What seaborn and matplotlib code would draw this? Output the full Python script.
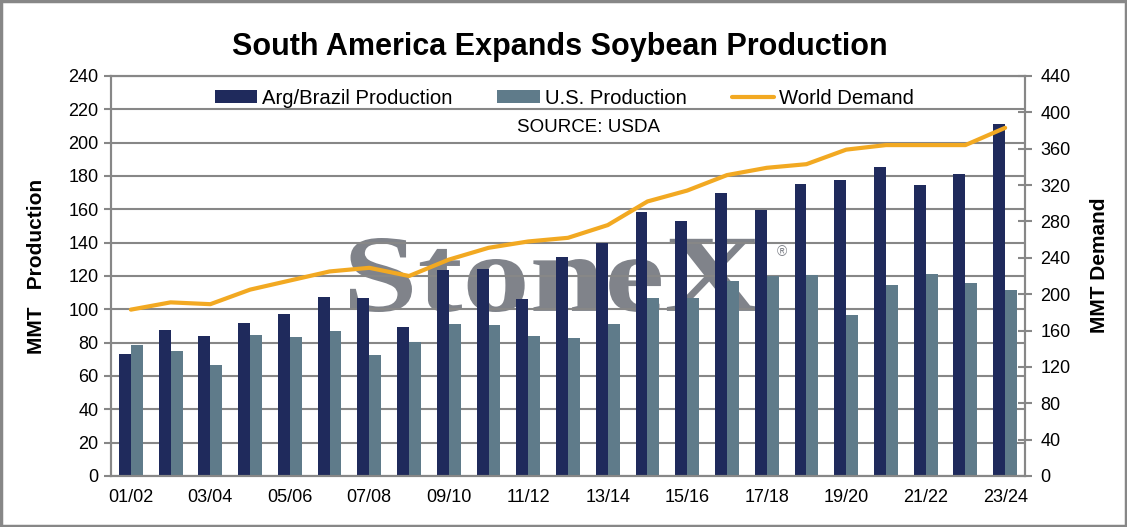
"""South America vs U.S. soybean production with world demand"""
import numpy as np
import pandas as pd
import matplotlib
matplotlib.use("Agg")
import matplotlib.pyplot as plt
from matplotlib.patches import Rectangle, PathPatch
from matplotlib.textpath import TextPath
from matplotlib.font_manager import FontProperties
from matplotlib.transforms import Affine2D
import seaborn as sns

# Data (MMT)
seasons = ['01/02', '02/03', '03/04', '04/05', '05/06', '06/07', '07/08', '08/09',
           '09/10', '10/11', '11/12', '12/13', '13/14', '14/15', '15/16', '16/17',
           '17/18', '18/19', '19/20', '20/21', '21/22', '22/23', '23/24']
arg_brazil = [73.1, 87.8, 84.0, 91.8, 97.2, 107.4, 106.8, 89.4, 123.6, 124.2, 106.2, 131.5,
              139.9, 158.7, 153.1, 169.9, 159.7, 175.4, 177.4, 185.6, 174.7, 181.4, 211.4]
us_prod = [78.8, 75.2, 66.7, 84.6, 83.6, 87.2, 72.5, 80.4, 91.2, 90.6, 84.0, 82.8,
           91.2, 106.8, 106.8, 117.2, 120.0, 120.6, 96.6, 114.6, 121.2, 115.8, 111.8]
world_demand = [183, 191, 189, 205, 215, 225, 229, 220, 238, 251, 258, 262,
                276, 302, 314, 331, 339, 343, 359, 364, 364, 364, 383]
series_names = ['Arg/Brazil Production', 'U.S. Production']
left_ticks = list(range(0, 241, 20))
right_ticks = list(range(0, 441, 40))

NAVY = '#1f2a5c'
STEEL = '#5f7b8a'
ORANGE = '#f2a922'
GRAY = '#878787'
MARK = '#80838a'

sns.set_style("white")
plt.rcParams['font.family'] = ['Liberation Sans', 'DejaVu Sans']
plt.rcParams.update({'text.color': 'black', 'axes.labelcolor': 'black',
                     'xtick.color': 'black', 'ytick.color': 'black'})

df = pd.DataFrame({
    'season': seasons * 2,
    'value': arg_brazil + us_prod,
    'series': [series_names[0]] * len(seasons) + [series_names[1]] * len(seasons),
})

fig = plt.figure(figsize=(11.27, 5.27), dpi=100)
ax = fig.add_axes([111 / 1127, 1 - 476 / 527, 914 / 1127, 400 / 527])

sns.barplot(data=df, x='season', y='value', hue='series', order=seasons,
            hue_order=series_names, palette=[NAVY, STEEL], width=0.6,
            saturation=1, linewidth=0, ax=ax)
bar_leg = ax.get_legend()
bar_handles = list(bar_leg.legend_handles)
bar_labels = [t.get_text() for t in bar_leg.get_texts()]
bar_leg.remove()

ax.set_ylim(0, 240)
ax.set_yticks(left_ticks)
ax.set_xlim(-0.5, len(seasons) - 0.5)
ax.set_axisbelow(True)
ax.yaxis.grid(True, color=GRAY, linewidth=1.5)
ax.set_xlabel('')
ax.set_ylabel('MMT   Production', fontsize=15, fontweight='bold')
ax.yaxis.set_label_coords(-0.0715, 0.525)
ax.tick_params(axis='y', direction='out', length=5, width=1.5, color=GRAY,
               labelsize=13, pad=4)

# x axis: ticks between seasons, labels on every other season
ax.set_xticks(np.arange(-0.5, len(seasons), 1.0))
ax.set_xticklabels([])
ax.set_xticks(np.arange(0, len(seasons), 2), minor=True)
ax.set_xticklabels(seasons[::2], minor=True)
ax.tick_params(axis='x', which='major', direction='inout', length=10, width=1.5, color=GRAY)
ax.tick_params(axis='x', which='minor', length=0, labelsize=13, pad=9)

for side in ['left', 'bottom', 'right', 'top']:
    ax.spines[side].set_visible(True)
    ax.spines[side].set_color(GRAY)
    ax.spines[side].set_linewidth(1.5)

# watermark, stretched to fit its box
tp = TextPath((0, 0), 'StoneX', size=1,
              prop=FontProperties(family='Liberation Serif', weight='bold'))
ext = tp.get_extents()
sx = 4.10 / ext.width
sy = 0.74 / ext.height
wm_tf = (Affine2D().translate(-ext.x0, -ext.y0).scale(sx, sy)
         .translate(3.50, (527 - 312) / 100) + fig.dpi_scale_trans)
ax.add_patch(PathPatch(tp, transform=wm_tf, facecolor=MARK, edgecolor='none',
                       zorder=0.3, clip_on=False))
fig.text(782 / 1127, 1 - 252 / 527, '\u00ae', fontsize=10, color=MARK,
         ha='center', va='center')

# world demand on right axis
ax2 = ax.twinx()
sns.lineplot(x=np.arange(len(seasons)), y=world_demand, color=ORANGE, linewidth=3,
             label='World Demand', ax=ax2)
line_handles, line_labels = ax2.get_legend_handles_labels()
ax2.get_legend().remove()
ax2.set_ylim(0, 440)
ax2.set_yticks(right_ticks)
ax2.set_ylabel('MMT Demand', fontsize=15, fontweight='bold')
ax2.yaxis.set_label_coords(1.0711, 0.527)
ax2.tick_params(axis='y', direction='inout', length=10, width=1.5, color=GRAY,
                labelsize=13, pad=6)
for side in ['left', 'bottom', 'right', 'top']:
    ax2.spines[side].set_color(GRAY)
    ax2.spines[side].set_linewidth(1.5)

ax2.legend(bar_handles + line_handles, bar_labels + line_labels, ncol=3,
           loc='center', bbox_to_anchor=(0.496, 0.945), frameon=False,
           fontsize=14.6, handlelength=2.1, handleheight=0.6, handletextpad=0.25,
           columnspacing=2.2)

ax2.text(0.522, 0.87, 'SOURCE: USDA', transform=ax2.transAxes, fontsize=13.5,
         ha='center', va='center')

fig.text(560 / 1127, 1 - 47 / 527, 'South America Expands Soybean Production',
         fontsize=22, fontweight='bold', ha='center', va='center')

fig.patches.append(Rectangle((0.001, 0.002), 0.998, 0.996, transform=fig.transFigure,
                             fill=False, edgecolor=GRAY, linewidth=2.5))

fig.savefig('out.png', dpi=100)
